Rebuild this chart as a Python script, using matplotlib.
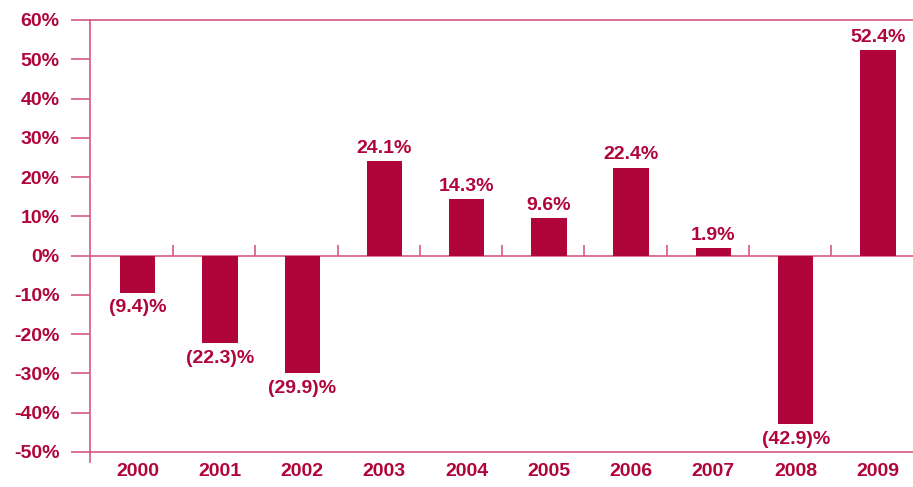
import matplotlib.pyplot as plt

# ── Data ─────────────────────────────────────────────────────────────────────
years = ["2000", "2001", "2002", "2003", "2004", "2005", "2006", "2007", "2008", "2009"]
returns = [-9.4, -22.3, -29.9, 24.1, 14.3, 9.6, 22.4, 1.9, -42.9, 52.4]
yticks = [-50, -40, -30, -20, -10, 0, 10, 20, 30, 40, 50, 60]

RED = "#B0053A"
LINE = "#D45A7E"

plt.rcParams["font.family"] = ["Liberation Sans", "DejaVu Sans"]
plt.rcParams["font.weight"] = "bold"

fig = plt.figure(figsize=(9.13, 4.87), dpi=100)
# axes: left spine at x=90px, top at y=20px, bottom at y=452px; runs past right edge
ax = fig.add_axes([90 / 913, 35 / 487, 829 / 913, 432 / 487])

x = list(range(len(years)))
ax.bar(x, returns, width=0.43, color=RED, zorder=3)

# value labels
for xi, v in zip(x, returns):
    txt = f"{v:.1f}%" if v >= 0 else f"({abs(v):.1f})%"
    if v >= 0:
        ax.annotate(txt, xy=(xi, v), xytext=(0, 3), textcoords="offset points",
                    ha="center", va="bottom", fontsize=14, fontweight="bold", color=RED)
    else:
        ax.annotate(txt, xy=(xi, v), xytext=(0, -5), textcoords="offset points",
                    ha="center", va="top", fontsize=14, fontweight="bold", color=RED)

# zero line with small upward separators between categories
ax.axhline(0, color=LINE, linewidth=1.2, zorder=2)
ax.vlines([i + 0.43 for i in x[:-1]], 0, 2.6, color=LINE, linewidth=1.2, zorder=2)

ax.set_xlim(-0.58, len(years) - 0.5)
ax.set_ylim(-50, 60)
ax.set_yticks(yticks)
ax.set_yticklabels([f"{t}%" for t in yticks])
ax.set_xticks(x)
ax.set_xticklabels(years)

for s in ["left", "top", "bottom"]:
    ax.spines[s].set_color(LINE)
    ax.spines[s].set_linewidth(1.2)
ax.spines["right"].set_visible(False)
# left spine pokes a bit below the -50% line
ax.plot([-0.58, -0.58], [-50, -52.6], color=LINE, linewidth=1.2, clip_on=False)

ax.tick_params(axis="y", direction="out", length=14, width=1.2, color=LINE,
               labelsize=14, labelcolor=RED, pad=8)
ax.tick_params(axis="x", length=0, labelsize=14, labelcolor=RED, pad=8)
for lbl in ax.get_xticklabels() + ax.get_yticklabels():
    lbl.set_fontweight("bold")

fig.savefig("out.png", dpi=100, facecolor="white")
plt.close()
